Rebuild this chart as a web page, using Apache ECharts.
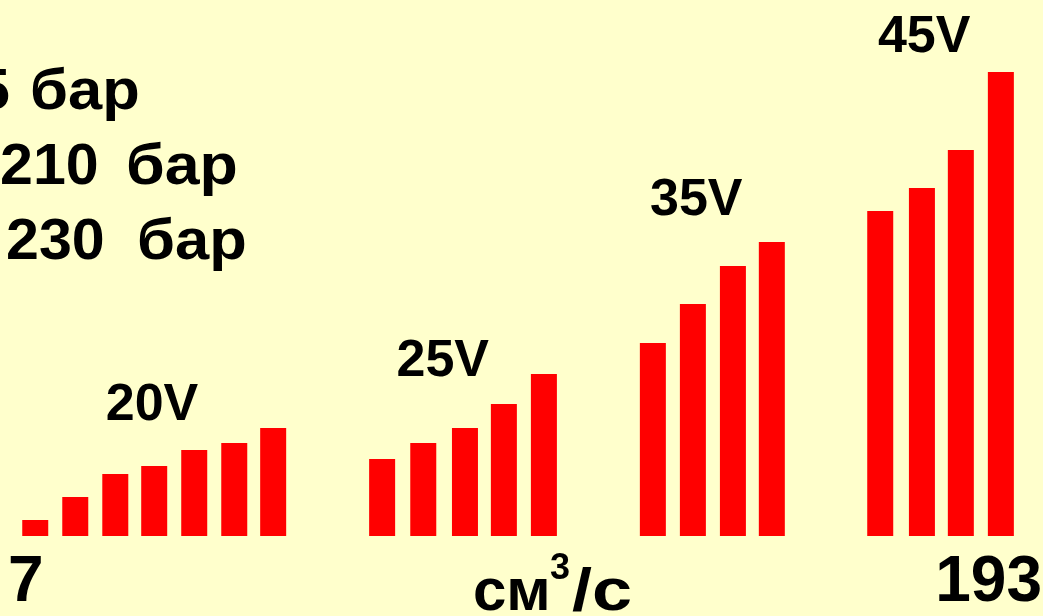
<!DOCTYPE html>
<html>
<head>
<meta charset="utf-8">
<script src="https://cdn.jsdelivr.net/npm/echarts@6/dist/echarts.min.js"></script>
<style>
  html, body { margin: 0; padding: 0; background: #FFFFCC; }
  #chart { width: 1043px; height: 616px; }
</style>
</head>
<body>
<div id="chart"></div>
<script>
// ---- data ----
const xMin = 7;
const xMax = 193;
const voltages = ['20V', '25V', '35V', '45V'];
const flow20V = [11.9, 19.1, 26.3, 33.3, 40.5, 47.7, 54.7];
const value20V = [3.2, 7.8, 12.4, 14.0, 17.2, 18.6, 21.6];
const flow25V = [74.3, 81.7, 89.2, 96.2, 103.4];
const value25V = [15.4, 18.6, 21.6, 26.4, 32.4];
const flow35V = [123.0, 130.2, 137.4, 144.4];
const value35V = [38.6, 46.4, 54.0, 58.8];
const flow45V = [163.9, 171.4, 178.4, 185.6];
const value45V = [65.0, 69.6, 77.2, 92.8];
const labelFlow = [32.9, 85.2, 130.8, 171.8];
const labelLevel = [26.0, 34.9, 67.0, 99.7];
const pressureNumbers = ['5', '210', '230'];
const pressureUnit = 'бар';
const unitParts = ['см', '3', '/с'];

// ---- build ----
const groupsFlow = [flow20V, flow25V, flow35V, flow45V];
const groupsValue = [value20V, value25V, value35V, value45V];
const barData = [];
groupsFlow.forEach((fl, g) => {
  fl.forEach((x, i) => barData.push([x, groupsValue[g][i]]));
});
const labelData = voltages.map((v, i) => ({ name: v, value: [labelFlow[i], labelLevel[i]] }));

const FONT = '"Liberation Sans", Arial, sans-serif';
function txt(text, x, y, size, align, sx) {
  return {
    type: 'text', x: x, y: y, scaleX: sx || 1, silent: true,
    style: {
      text: text, fontFamily: FONT, fontWeight: 'bold', fontSize: size,
      fill: '#000', align: align || 'left', verticalAlign: 'middle'
    }
  };
}

const pressureLayout = [
  { nx: 10, align: 'right', ux: 30, y: 92.5, sx: 1.06 },
  { nx: 0, align: 'left', ux: 126, y: 168, sx: 1.08 },
  { nx: 6, align: 'left', ux: 137, y: 243, sx: 1.06 }
];
const graphics = [];
pressureNumbers.forEach((p, i) => {
  const L = pressureLayout[i];
  graphics.push(txt(p, L.nx, L.y, 58, L.align, 1.02));
  graphics.push(txt(pressureUnit, L.ux, L.y, 58, 'left', L.sx));
});
graphics.push(txt(unitParts[0], 473, 593, 60, 'left'));
graphics.push(txt(unitParts[1], 550, 569, 36, 'left'));
graphics.push(txt(unitParts[2], 572, 593, 60, 'left', 1.2));

const chart = echarts.init(document.getElementById('chart'));
chart.setOption({
  animation: false,
  backgroundColor: '#FFFFCC',
  grid: { left: 8, right: 1, top: 36, bottom: 80, containLabel: false, outerBoundsMode: 'none' },
  xAxis: {
    type: 'value', min: xMin, max: xMax,
    axisLine: { show: false }, axisTick: { show: false }, splitLine: { show: false },
    axisLabel: {
      show: true, showMinLabel: true, showMaxLabel: true,
      alignMinLabel: 'left', alignMaxLabel: 'right',
      margin: 15, fontSize: 64, fontWeight: 'bold', fontFamily: FONT, color: '#000',
      formatter: v => (v === xMin || v === xMax) ? String(v) : ''
    }
  },
  yAxis: { type: 'value', min: 0, max: 100, show: false },
  series: [
    {
      type: 'bar', data: barData, barWidth: 26, clip: false,
      itemStyle: { color: '#FF0000' }, silent: true
    },
    {
      type: 'scatter', data: labelData, symbolSize: 0, clip: false, silent: true,
      itemStyle: { color: 'transparent', opacity: 1 },
      label: {
        show: true, position: 'inside', formatter: p => p.name, opacity: 1,
        fontFamily: FONT, fontWeight: 'bold', fontSize: 52, color: '#000'
      }
    }
  ],
  graphic: graphics
});
</script>
</body>
</html>
